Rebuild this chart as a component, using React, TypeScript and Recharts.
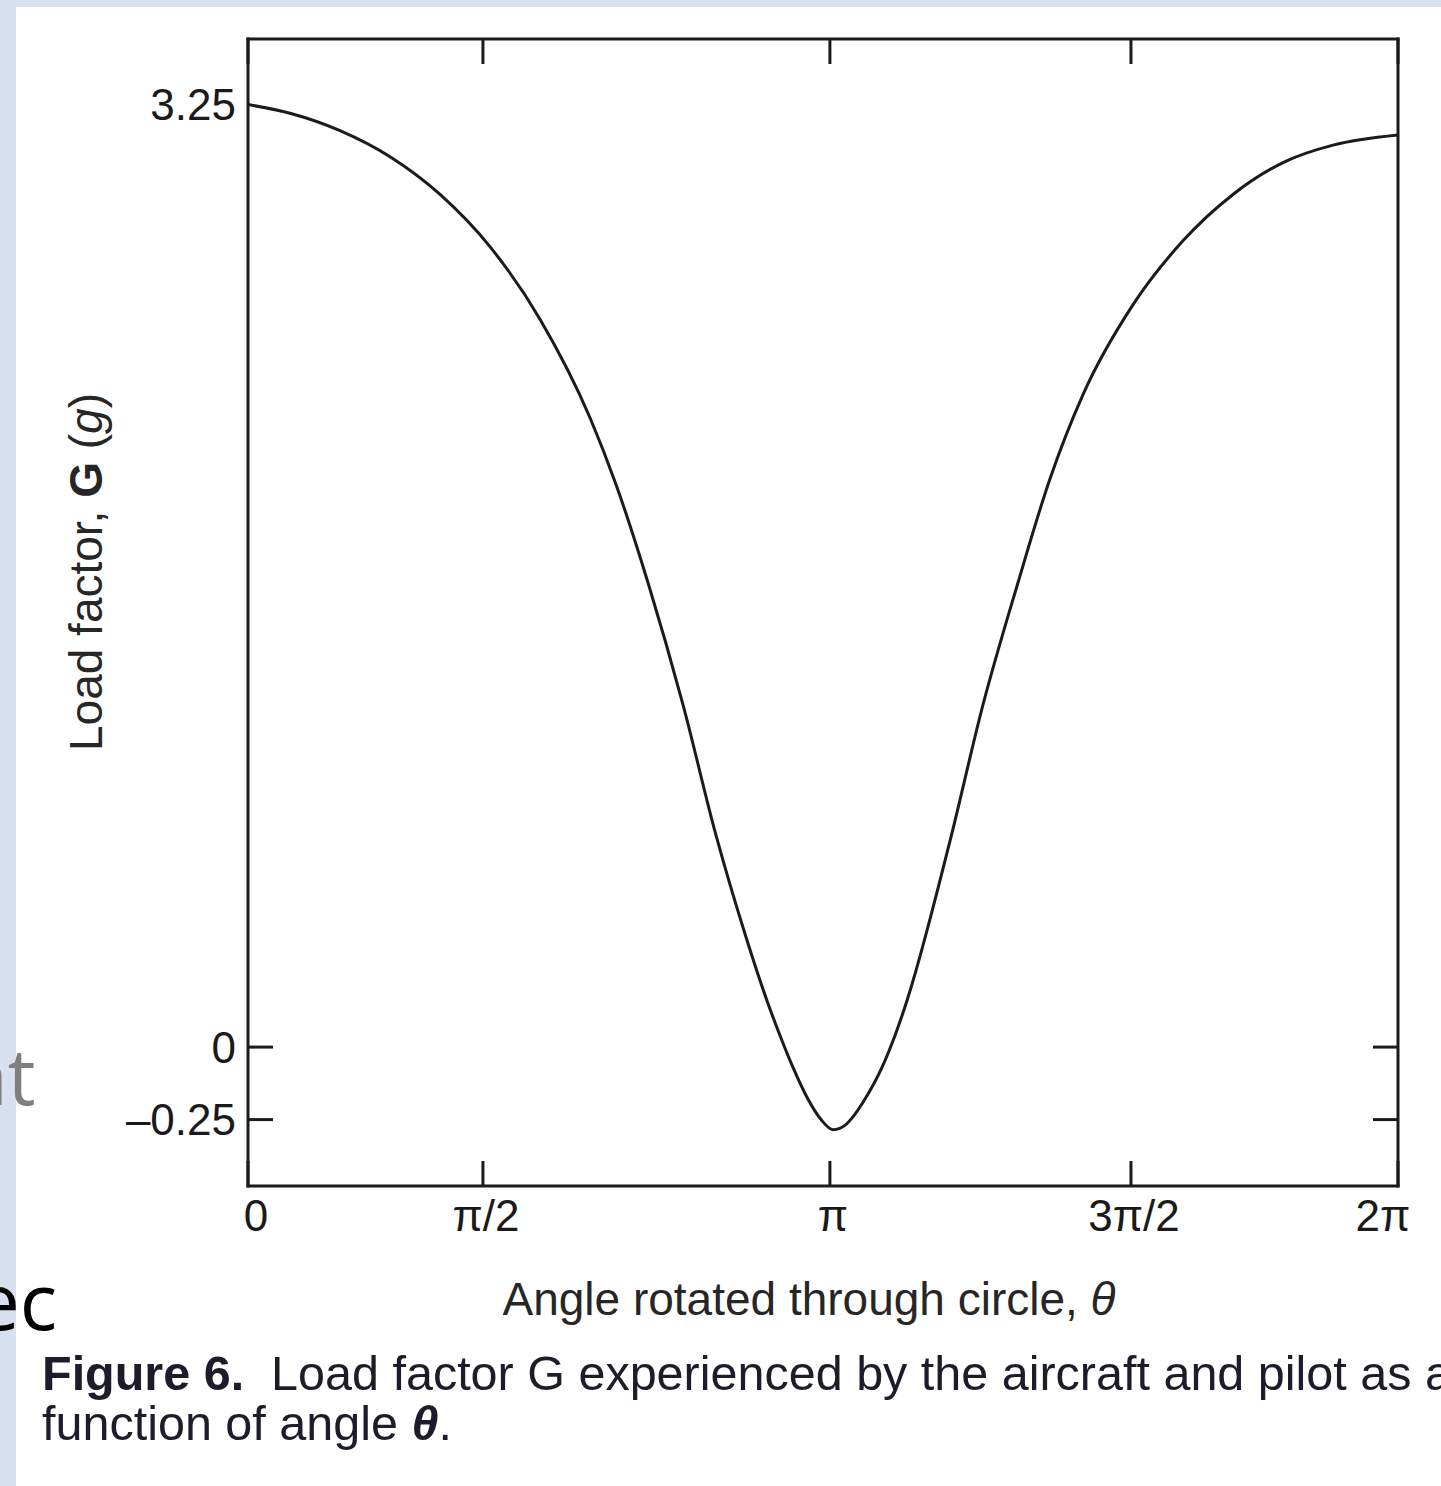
import React from "react";
import { LineChart, Line, XAxis, YAxis } from "recharts";

// horizontal position of each sample, in % of the plotted span
// (the source axis is not evenly spaced in angle, so the ticks sit where the figure puts them)
const xPos = [
  0, 3.65, 8.0, 12.35, 16.7, 21.04, 25.39, 29.74, 32.0, 34.87, 37.83, 40.7, 43.22, 45.13,
  46.26, 47.39, 48.7, 49.83, 50.87, 51.91, 52.61, 53.48, 55.13, 56.26, 57.3,
  61.04, 63.91, 66.87, 69.74, 72.61, 76.96, 81.3, 85.65, 90.0, 94.35, 100,
];
// load factor G (g)
const loadG = [
  3.25, 3.22, 3.16, 3.07, 2.94, 2.76, 2.51, 2.17, 1.94, 1.59, 1.18, 0.73, 0.39, 0.16,
  0.04, -0.07, -0.18, -0.25, -0.285, -0.27, -0.24, -0.19, -0.07, 0.04, 0.16,
  0.71, 1.18, 1.59, 1.96, 2.25, 2.56, 2.78, 2.94, 3.05, 3.11, 3.145,
];

const xTickPos = [0, 20.43, 50.6, 76.78, 100];
const xTickLabels = ["0", "π/2", "π", "3π/2", "2π"];
const yTicks = [-0.25, 0, 3.25];
const yTickLabels = ["–0.25", "0", "3.25"];
// the figure only draws tick marks for these two (3.25 is where the curve starts)
const yTickMarks = [-0.25, 0];
const yDomain: [number, number] = [-0.479, 3.476];

const data = xPos.map((x, i) => ({ x, g: loadG[i] }));

const INK = "#1b1b1b";
const FONT = "'Liberation Sans', Arial, sans-serif";
const BAND = "#d6e0ee";

const axisLine = { stroke: INK, strokeWidth: 3, strokeLinecap: "square" as const };
const tickLine = { stroke: INK, strokeWidth: 3 };

function XTick(props: any) {
  const { x, y, payload } = props;
  const i = xTickPos.indexOf(payload.value);
  // first and last labels are nudged inwards like in the figure
  const dx = i === 0 ? 8 : i === xTickPos.length - 1 ? -15 : 3;
  return (
    <text
      x={x + dx}
      y={y}
      dy="0.71em"
      textAnchor="middle"
      fontFamily={FONT}
      fontSize={44}
      fill="#1a1a1a"
    >
      {xTickLabels[i]}
    </text>
  );
}

// left axis: label plus an inward tick mark (label sits 12px left of the axis line)
function YTick(props: any) {
  const { x, y, payload } = props;
  const i = yTicks.indexOf(payload.value);
  return (
    <g>
      {yTickMarks.includes(payload.value) && (
        <line x1={x + 12} x2={x + 37} y1={y} y2={y} stroke={INK} strokeWidth={3} />
      )}
      <text
        x={x}
        y={y}
        dy="0.355em"
        textAnchor="end"
        fontFamily={FONT}
        fontSize={44}
        fill="#1a1a1a"
      >
        {yTickLabels[i]}
      </text>
    </g>
  );
}

export default function App() {
  return (
    <div
      style={{
        position: "absolute",
        left: 0,
        top: 0,
        width: 1441,
        height: 1486,
        background: "#fff",
        overflow: "hidden",
        fontFamily: FONT,
      }}
    >
      {/* slide frame behind the figure */}
      <div style={{ position: "absolute", left: 0, top: 0, width: 1441, height: 7, background: BAND }} />
      <div style={{ position: "absolute", left: 0, top: 0, width: 16, height: 1486, background: BAND }} />
      <div
        style={{
          position: "absolute",
          left: -40,
          top: 1036,
          fontFamily: "'Open Sans', sans-serif",
          fontSize: 78,
          lineHeight: "78px",
          color: "#7f7f7f",
        }}
      >
        nt
      </div>
      <div
        style={{
          position: "absolute",
          left: -24,
          top: 1261,
          fontFamily: "'Open Sans', sans-serif",
          fontSize: 78,
          lineHeight: "78px",
          color: "#000",
        }}
      >
        ec
      </div>

      <div style={{ position: "absolute", left: 0, top: 0 }}>
        <LineChart
          width={1441}
          height={1486}
          data={data}
          margin={{ top: 9, right: 13, bottom: 240, left: 98 }}
        >
          <XAxis
            xAxisId="b"
            dataKey="x"
            type="number"
            domain={[0, 100]}
            allowDataOverflow
            ticks={xTickPos}
            interval={0}
            height={60}
            tickSize={-25}
            tickMargin={39}
            axisLine={axisLine}
            tickLine={tickLine}
            tick={<XTick />}
          />
          <XAxis
            xAxisId="t"
            dataKey="x"
            orientation="top"
            type="number"
            domain={[0, 100]}
            allowDataOverflow
            ticks={xTickPos}
            interval={0}
            height={30}
            tickSize={-25}
            axisLine={axisLine}
            tickLine={tickLine}
            tickFormatter={() => ""}
          />
          <YAxis
            yAxisId="l"
            type="number"
            domain={yDomain}
            allowDataOverflow
            ticks={yTicks}
            interval={0}
            width={150}
            tickSize={-25}
            tickMargin={37}
            axisLine={axisLine}
            tickLine={false}
            tick={<YTick />}
          />
          <YAxis
            yAxisId="r"
            dataKey="g"
            orientation="right"
            type="number"
            domain={yDomain}
            allowDataOverflow
            ticks={yTickMarks}
            interval={0}
            width={30}
            tickSize={-25}
            axisLine={axisLine}
            tickLine={tickLine}
            tickFormatter={() => ""}
          />
          <Line
            xAxisId="b"
            yAxisId="l"
            dataKey="g"
            type="monotone"
            stroke={INK}
            strokeWidth={3}
            dot={false}
            isAnimationActive={false}
          />
        </LineChart>
      </div>

      {/* y axis title */}
      <div
        style={{
          position: "absolute",
          left: 86 - 250,
          top: 572 - 25,
          width: 500,
          height: 50,
          lineHeight: "50px",
          textAlign: "center",
          fontSize: 46,
          color: "#262626",
          transform: "rotate(-90deg)",
          whiteSpace: "nowrap",
        }}
      >
        Load factor, <b>G</b> (<i>g</i>)
      </div>

      {/* x axis title */}
      <div
        style={{
          position: "absolute",
          left: 309,
          top: 1274,
          width: 1000,
          lineHeight: "50px",
          textAlign: "center",
          fontSize: 46,
          color: "#262626",
          whiteSpace: "nowrap",
        }}
      >
        Angle rotated through circle, <i>θ</i>
      </div>

      {/* caption */}
      <div
        style={{
          position: "absolute",
          left: 42,
          top: 1348,
          fontSize: 48.5,
          lineHeight: "50px",
          color: "#1c1c2a",
          whiteSpace: "nowrap",
        }}
      >
        <div>
          <b>Figure 6.</b>&nbsp; Load factor G experienced by the aircraft and pilot as a
        </div>
        <div>
          function of angle <b><i>θ</i></b>.
        </div>
      </div>
    </div>
  );
}
